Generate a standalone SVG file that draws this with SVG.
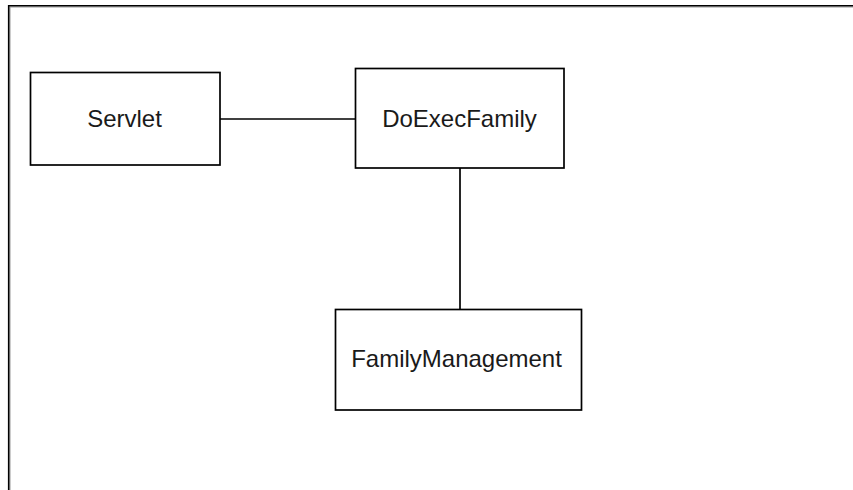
<svg xmlns="http://www.w3.org/2000/svg" width="853" height="490" viewBox="0 0 853 490">
<style>
.box{fill:#fff;stroke:#000;stroke-width:1.7}
.lbl{font-family:"Liberation Sans",Arial,sans-serif;font-size:24px;fill:#1a1a1a;text-anchor:middle}
.conn{stroke:#000;stroke-width:1.7;fill:none}
</style>
<rect x="0" y="0" width="853" height="490" fill="#fff"/>
<g id="frame">
<line x1="10" y1="7" x2="853" y2="7" stroke="#999" stroke-width="1"/>
<line x1="10" y1="7" x2="10" y2="490" stroke="#999" stroke-width="1"/>
<line x1="8" y1="5.7" x2="853" y2="5.7" stroke="#000" stroke-width="1.6"/>
<line x1="8.7" y1="5" x2="8.7" y2="490" stroke="#000" stroke-width="1.6"/>
</g>
<g id="connectors">
<line class="conn" x1="220" y1="119" x2="355" y2="119"/>
<line class="conn" x1="460" y1="168" x2="460" y2="309"/>
</g>
<g id="servlet">
<rect class="box" x="30.5" y="72.5" width="189.5" height="92.5"/>
<text class="lbl" x="124.5" y="127">Servlet</text>
</g>
<g id="doexecfamily">
<rect class="box" x="355.5" y="68.5" width="208.5" height="99.5"/>
<text class="lbl" x="459.5" y="127">DoExecFamily</text>
</g>
<g id="familymanagement">
<rect class="box" x="335.5" y="309.5" width="246" height="100.5"/>
<text class="lbl" x="456.5" y="367">FamilyManagement</text>
</g>
</svg>
